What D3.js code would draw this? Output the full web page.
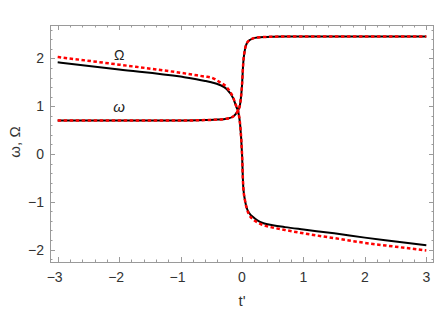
<!DOCTYPE html>
<html>
<head>
<meta charset="utf-8">
<script src="https://cdn.jsdelivr.net/npm/d3@7"></script>
<style>
  body { margin: 0; background: #fff; }
  text { font-family: "Liberation Sans", Arial, sans-serif; }
</style>
</head>
<body>
<div id="chart"></div>
<script>
// values
var tOmega = [-3, -2, -1, -0.6, -0.4, -0.25, -0.15, -0.1, -0.06, -0.03, 0, 0.02, 0.05, 0.08, 0.12, 0.18, 0.25, 0.4, 0.7, 1, 2, 3];
var omegaBlack = [0.70, 0.70, 0.70, 0.71, 0.72, 0.74, 0.78, 0.84, 0.92, 1.05, 1.44, 1.90, 2.20, 2.32, 2.38, 2.42, 2.44, 2.45, 2.46, 2.46, 2.46, 2.46];
var omegaRed   = [0.70, 0.70, 0.70, 0.71, 0.72, 0.74, 0.78, 0.84, 0.92, 1.05, 1.44, 1.90, 2.20, 2.32, 2.38, 2.42, 2.44, 2.45, 2.46, 2.46, 2.46, 2.46];

var tBig = [-3, -2, -1, -0.6, -0.5, -0.37, -0.25, -0.14, -0.09, -0.06, -0.03, 0, 0.02, 0.05, 0.08, 0.12, 0.18, 0.25, 0.35, 0.5, 0.7, 1, 1.5, 2, 2.5, 3];
var bigOmegaBlack = [1.92, 1.77, 1.62, 1.53, 1.50, 1.45, 1.36, 1.16, 0.98, 0.88, 0.61, 0.01, -0.68, -0.98, -1.14, -1.24, -1.32, -1.39, -1.45, -1.49, -1.53, -1.58, -1.66, -1.75, -1.83, -1.91];
var bigOmegaRed   = [2.03, 1.87, 1.70, 1.62, 1.60, 1.51, 1.40, 1.17, 0.99, 0.88, 0.61, 0.01, -0.68, -0.98, -1.15, -1.28, -1.37, -1.43, -1.49, -1.54, -1.59, -1.66, -1.76, -1.86, -1.94, -2.02];

var xTicks = [-3, -2, -1, 0, 1, 2, 3];
var yTicks = [-2, -1, 0, 1, 2];

var width = 436, height = 312;
var mLeft = 50, mRight = 434, mTop = 25, mBottom = 262;

var x = d3.scaleLinear().domain([-3.125, 3.125]).range([mLeft, mRight]);
var y = d3.scaleLinear().domain([-2.26, 2.70]).range([mBottom, mTop]);

var svg = d3.select("#chart").append("svg")
    .attr("width", width)
    .attr("height", height);

var frameColor = "#9a9a9a";

// minor ticks every 0.2
var xMinor = d3.range(-3.0, 3.01, 0.2).map(function(d) { return Math.round(d * 10) / 10; });
var yMinor = d3.range(-2.2, 2.61, 0.2).map(function(d) { return Math.round(d * 10) / 10; });

function isMajor(v) { return Math.abs(v - Math.round(v)) < 1e-6; }

var ticks = svg.append("g").attr("stroke", frameColor).attr("stroke-width", 1);
xMinor.forEach(function(v) {
    var len = isMajor(v) ? 5 : 2.5;
    var px = Math.round(x(v)) + 0.5;
    ticks.append("line").attr("x1", px).attr("x2", px).attr("y1", mBottom).attr("y2", mBottom - len);
    ticks.append("line").attr("x1", px).attr("x2", px).attr("y1", mTop).attr("y2", mTop + len);
});
yMinor.forEach(function(v) {
    var len = isMajor(v) ? 5 : 2.5;
    var py = Math.round(y(v)) + 0.5;
    ticks.append("line").attr("y1", py).attr("y2", py).attr("x1", mLeft).attr("x2", mLeft + len);
    ticks.append("line").attr("y1", py).attr("y2", py).attr("x1", mRight).attr("x2", mRight - len);
});

// frame
svg.append("rect")
    .attr("x", mLeft + 0.5).attr("y", mTop + 0.5)
    .attr("width", mRight - mLeft - 1).attr("height", mBottom - mTop)
    .attr("fill", "none")
    .attr("stroke", frameColor)
    .attr("stroke-width", 1);

// tick labels
function fmt(v) { return v < 0 ? "\u2212" + Math.abs(v) : String(v); }

svg.append("g").selectAll("text")
    .data(xTicks)
    .enter().append("text")
    .attr("x", function(d) { return x(d) - (d < 0 ? 3 : 0); })
    .attr("y", 282)
    .attr("text-anchor", "middle")
    .attr("font-size", 14)
    .attr("fill", "#333")
    .text(fmt);

svg.append("g").selectAll("text")
    .data(yTicks)
    .enter().append("text")
    .attr("x", 44)
    .attr("y", function(d) { return y(d) + 5; })
    .attr("text-anchor", "end")
    .attr("font-size", 14)
    .attr("fill", "#333")
    .text(fmt);

// axis labels
svg.append("text")
    .attr("x", 242).attr("y", 306)
    .attr("text-anchor", "middle")
    .attr("font-size", 15)
    .attr("fill", "#333")
    .text("t'");

svg.append("text")
    .attr("transform", "translate(20,142) rotate(-90)")
    .attr("text-anchor", "middle")
    .attr("font-size", 15)
    .attr("fill", "#333")
    .text("\u03c9, \u03a9");

// curves
var line = d3.line()
    .x(function(d) { return x(d[0]); })
    .y(function(d) { return y(d[1]); })
    .curve(d3.curveMonotoneX);

function pairs(ts, vs) { return ts.map(function(t, i) { return [t, vs[i]]; }); }

var plot = svg.append("g");

plot.append("path").datum(pairs(tOmega, omegaBlack))
    .attr("d", line).attr("fill", "none").attr("stroke", "#000").attr("stroke-width", 2);
plot.append("path").datum(pairs(tBig, bigOmegaBlack))
    .attr("d", line).attr("fill", "none").attr("stroke", "#000").attr("stroke-width", 2);

plot.append("path").datum(pairs(tOmega, omegaRed))
    .attr("d", line).attr("fill", "none").attr("stroke", "#ff0000").attr("stroke-width", 2.5)
    .attr("stroke-dasharray", "3.5,2.5");
plot.append("path").datum(pairs(tBig, bigOmegaRed))
    .attr("d", line).attr("fill", "none").attr("stroke", "#ff0000").attr("stroke-width", 2.5)
    .attr("stroke-dasharray", "3.5,2.5");

// curve labels
svg.append("text")
    .attr("x", x(-2)).attr("y", 60)
    .attr("text-anchor", "middle")
    .attr("font-size", 14)
    .attr("fill", "#222")
    .text("\u03a9");

svg.append("text")
    .attr("x", x(-2)).attr("y", 111.5)
    .attr("text-anchor", "middle")
    .attr("font-size", 15)
    .attr("font-style", "italic")
    .attr("fill", "#222")
    .text("\u03c9");
</script>
</body>
</html>
